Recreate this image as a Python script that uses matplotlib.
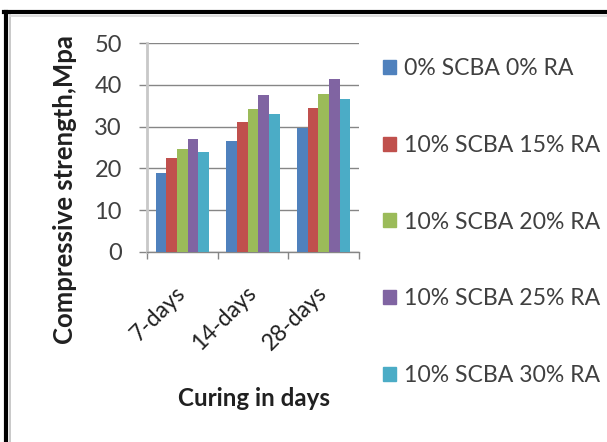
import matplotlib
matplotlib.use("Agg")
import matplotlib.pyplot as plt
import numpy as np
from matplotlib.lines import Line2D

categories = ["7-days", "14-days", "28-days"]
series_names = ["0% SCBA 0% RA", "10% SCBA 15% RA", "10% SCBA 20% RA",
                "10% SCBA 25% RA", "10% SCBA 30% RA"]
s0 = [19.0, 26.5, 29.6]
s15 = [22.5, 31.0, 34.4]
s20 = [24.6, 34.2, 37.9]
s25 = [27.1, 37.6, 41.5]
s30 = [24.0, 32.9, 36.6]
series = [s0, s15, s20, s25, s30]
colors = ["#4F81BD", "#C0504D", "#9BBB59", "#8064A2", "#4BACC6"]
yticks = [0, 10, 20, 30, 40, 50]

plt.rcParams['font.family'] = ['Lato', 'DejaVu Sans']

W, H = 607, 442
fig = plt.figure(figsize=(W / 100, H / 100), dpi=100)
ax = fig.add_axes([147 / W, 1 - 252 / H, (359 - 147) / W, (252 - 43) / H])

n = len(series)
group = 0.75
bw = group / n
x = np.arange(len(categories))
for i, (vals, c) in enumerate(zip(series, colors)):
    ax.bar(x - group / 2 + bw * (i + 0.5), vals, bw, color=c, label=series_names[i], zorder=3)

ax.set_xlim(-0.5, len(categories) - 0.5)
ax.set_ylim(0, 50)
ax.set_yticks(yticks)
ax.set_yticklabels([str(v) for v in yticks])
ax.yaxis.grid(True, color="#868686", linewidth=1.0, zorder=0)
for s in ["top", "right"]:
    ax.spines[s].set_visible(False)
ax.spines["left"].set_color("#C8C8C8")
ax.spines["left"].set_linewidth(2.0)
ax.spines["bottom"].set_color("#868686")
ax.spines["bottom"].set_linewidth(1.0)
ax.tick_params(axis="y", length=6, width=1, color="#868686", pad=12,
               labelsize=17, labelcolor="#404040")
ax.set_xticks(np.arange(len(categories) + 1) - 0.5, minor=False)
ax.set_xticklabels([])
ax.tick_params(axis="x", which="major", length=5, width=1, color="#868686")
ax.set_xticks(x, minor=True)
ax.set_xticklabels(categories, minor=True, rotation=45, ha="right", va="center",
                   rotation_mode="anchor", fontsize=16.5, color="#202020")
ax.tick_params(axis="x", which="minor", length=0, pad=27)

fig.text(65 / W, 1 - 190 / H, "Compressive strength,Mpa", rotation=90, ha="center",
         va="center", fontsize=18.5, fontweight="bold", color="#202020")
fig.text(254 / W, 1 - 398 / H, "Curing in days", ha="center", va="center",
         fontsize=17.4, fontweight="bold", color="#202020")

handles = [plt.Rectangle((0, 0), 1, 1, color=c) for c in colors]
leg = fig.legend(handles, series_names, loc="upper left",
                 bbox_to_anchor=(383 / W, 1 - 58 / H), frameon=False,
                 fontsize=16.6, labelcolor="#404040", handlelength=0.56,
                 handleheight=0.56, handletextpad=0.35, labelspacing=2.42,
                 borderaxespad=0, borderpad=0)

# chart border
fig.add_artist(Line2D([4 / W, 1], [1 - 12 / H, 1 - 12 / H], color="black", lw=3,
                      transform=fig.transFigure))
fig.add_artist(Line2D([6 / W, 6 / W], [0, 1 - 12 / H], color="black", lw=3,
                      transform=fig.transFigure))
fig.add_artist(Line2D([10 / W, 10 / W], [0, 1 - 15 / H], color="#C0C0C0", lw=1.2,
                      transform=fig.transFigure))
fig.add_artist(Line2D([10 / W, 1], [1 - 15.5 / H, 1 - 15.5 / H], color="#D8D8D8", lw=1.2,
                      transform=fig.transFigure))

fig.savefig("out.png", dpi=100)
